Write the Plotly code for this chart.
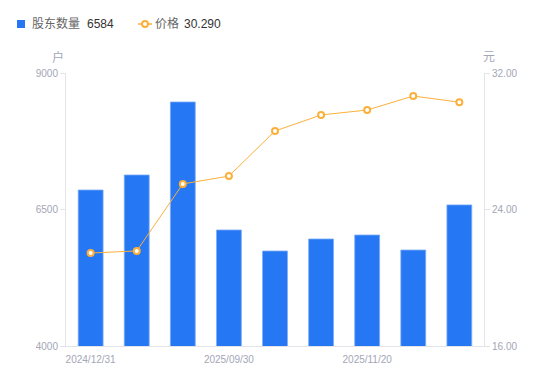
import plotly.graph_objects as go

categories = ["2024/12/31", "2025/03/31", "2025/06/30", "2025/09/30", "2025/10/20",
              "2025/10/31", "2025/11/20", "2025/11/30", "2025/12/10"]
holders = [6857, 7132, 8469, 6125, 5740, 5960, 6033, 5758, 6584]
price = [21.45, 21.57, 25.50, 25.96, 28.60, 29.54, 29.83, 30.65, 30.29]
x_tick_labels = ["2024/12/31", "2025/09/30", "2025/11/20"]
left_ticks = [4000, 6500, 9000]
right_ticks = [16, 24, 32]

FONT = "Liberation Sans, Noto Sans CJK SC, sans-serif"
TICK_COLOR = "#a3a6b6"
AXIS_COLOR = "#e3e4ea"
BAR_COLOR = "#2577f3"
LINE_COLOR = "#fbb03b"

# page has an 8px body margin; work in page pixels and convert
OFF = 8
W, H = 550 - OFF, 381 - OFF
L, R, T, B = 66 - OFF, 66, 73 - OFF, 35
PW, PH = W - L - R, H - T - B


def px(x):
    return (x - OFF - L) / PW


def py(y):
    return 1 - (y - OFF - T) / PH


fig = go.Figure()
fig.add_trace(go.Bar(
    x=categories, y=holders, name="股东数量",
    marker=dict(color=BAR_COLOR, line=dict(color="#7eacf7", width=0.8)),
    yaxis="y", showlegend=False,
))
fig.add_trace(go.Scatter(
    x=categories, y=price, mode="lines+markers", name="价格",
    line=dict(color=LINE_COLOR, width=1),
    marker=dict(symbol="circle", size=6, color="white", line=dict(color=LINE_COLOR, width=2)),
    yaxis="y2", showlegend=False,
))

ann = []


def text(t, x, y, color, size, xanchor="left"):
    ann.append(dict(text=t, x=px(x), y=py(y), xref="paper", yref="paper", showarrow=False,
                    xanchor=xanchor, yanchor="middle", font=dict(size=size, color=color)))


# legend
text("股东数量", 30, 24, "#666666", 12)
text(str(holders[-1]), 85, 24, "#333333", 12)
text("价格", 153, 24, "#666666", 12)
text(f"{price[-1]:.3f}", 182, 24, "#333333", 12)
# axis titles
text("户", 58, 57, TICK_COLOR, 12, "center")
text("元", 489, 57, TICK_COLOR, 12, "center")

shapes = [
    dict(type="rect", xref="paper", yref="paper", x0=px(17), x1=px(25), y0=py(20), y1=py(28),
         fillcolor=BAR_COLOR, line=dict(width=0), layer="above"),
    dict(type="line", xref="paper", yref="paper", x0=px(138), x1=px(152), y0=py(24), y1=py(24),
         line=dict(color=LINE_COLOR, width=1.5), layer="above"),
    dict(type="circle", xref="paper", yref="paper", x0=px(142), x1=px(148), y0=py(21), y1=py(27),
         fillcolor="white", line=dict(color=LINE_COLOR, width=2), layer="above"),
]

fig.update_layout(
    width=W, height=H,
    margin=dict(l=L, r=R, t=T, b=B, autoexpand=False),
    paper_bgcolor="white", plot_bgcolor="white",
    font=dict(family=FONT, size=10, color=TICK_COLOR),
    bargap=0.46,
    showlegend=False,
    xaxis=dict(type="category", tickmode="array",
               tickvals=[categories[0], categories[3], categories[6]],
               ticktext=x_tick_labels, showline=True, linecolor=AXIS_COLOR,
               ticks="", showgrid=False, zeroline=False, ticklabelstandoff=4,
               tickfont=dict(size=10, color=TICK_COLOR)),
    yaxis=dict(range=[4000, 9000], tickvals=left_ticks, showline=True,
               linecolor=AXIS_COLOR, ticks="outside", ticklen=5, tickcolor=AXIS_COLOR,
               showgrid=False, zeroline=False, tickfont=dict(size=10, color=TICK_COLOR)),
    yaxis2=dict(range=[16, 32], tickvals=right_ticks, tickformat=".2f", overlaying="y",
                side="right", showline=True, linecolor=AXIS_COLOR, ticks="outside",
                ticklen=5, tickcolor=AXIS_COLOR, showgrid=False, zeroline=False,
                tickfont=dict(size=10, color=TICK_COLOR)),
    annotations=ann,
    shapes=shapes,
)

fig.write_html("out.html")
